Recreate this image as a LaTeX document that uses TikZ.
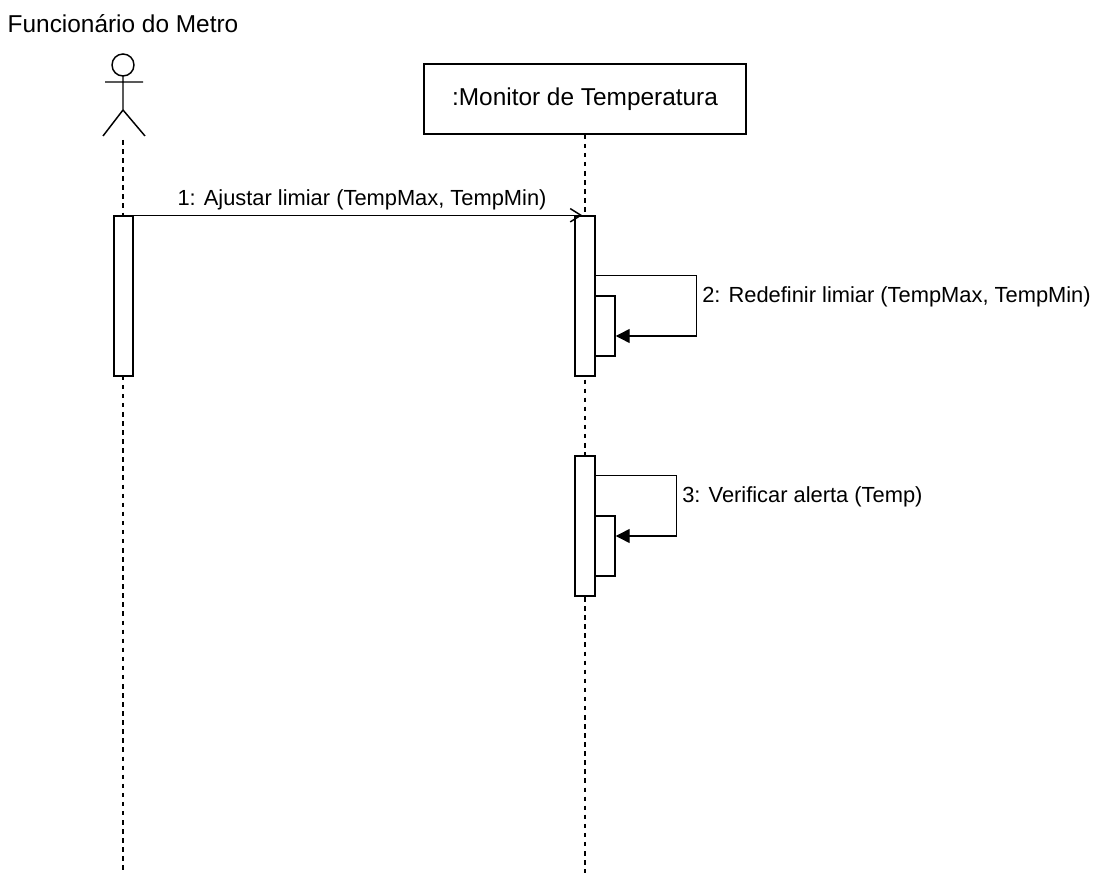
\documentclass[tikz,border=0pt]{standalone}
\usepackage{fontspec}
\setmainfont{Liberation Sans}
\usetikzlibrary{arrows.meta}

\tikzset{
	lbl/.style={font=\fontsize{16.4}{18}\selectfont, inner sep=0pt},
	biglbl/.style={font=\fontsize{18.3}{20}\selectfont, inner sep=0pt},
	lifeline/.style={dash pattern=on 3.4pt off 3.4pt, line width=0.9pt},
	actbox/.style={draw, fill=white, line width=1.1pt, minimum width=15pt, inner sep=0pt},
	selfmsg/.style={line width=1.1pt, -{Triangle[length=10.5pt,width=10.5pt]}},
}

\begin{document}
\begin{tikzpicture}[x=0.75pt,y=-0.75pt]
		\useasboundingbox (0,0) rectangle (1100,873);

		% actor
		\node[biglbl] (actorname) at (123,24) {Funcionário do Metro};
		\draw[line width=1.1pt] (123,65) circle[radius=11];
		\draw[line width=1.1pt] (123,76) -- (123,110) (105,82) -- (143,82)
			(103,136) -- (123,110) -- (145,136);
		\coordinate (actorfoot) at (123,140);

		% object
		\node[draw, line width=1.1pt, minimum width=241.5pt, minimum height=52.5pt, biglbl] (monitor) at (585,99) {:Monitor de Temperatura};

		% lifelines
		\draw[lifeline] (actorfoot) -- (123,873);
		\draw[lifeline] (monitor.south) -- (585,873);

		% activations
		\node[actbox, minimum width=14.25pt, minimum height=120pt] (aact) at (123.5,296) {};
		\node[actbox, minimum height=120pt] (act1) at (585,296) {};
		\node[actbox, minimum height=45pt] (nest1) at (605,326) {};
		\node[actbox, minimum height=105pt] (act3) at (585,526) {};
		\node[actbox, minimum height=45pt] (nest3) at (605,546) {};

		% messages
		\draw[line width=1.1pt, -{Straight Barb[length=8pt,width=10pt]}] (aact.north east) -- ([xshift=6pt]act1.north west);
		\node[lbl] (l1) at (362,200) {1: Ajustar limiar (TempMax, TempMin)};

		\draw[selfmsg] ([yshift=-45pt]act1.north east) -- ++(101,0) |- ([yshift=-7.5pt]nest1.east);
		\node[lbl, anchor=west] (l2) at (702,297) {2: Redefinir limiar (TempMax, TempMin)};

		\draw[selfmsg] ([yshift=-15pt]act3.north east) -- ++(81,0) |- ([yshift=7.5pt]nest3.east);
		\node[lbl, anchor=west] (l3) at (682,497) {3: Verificar alerta (Temp)};
	\end{tikzpicture}
\end{document}
